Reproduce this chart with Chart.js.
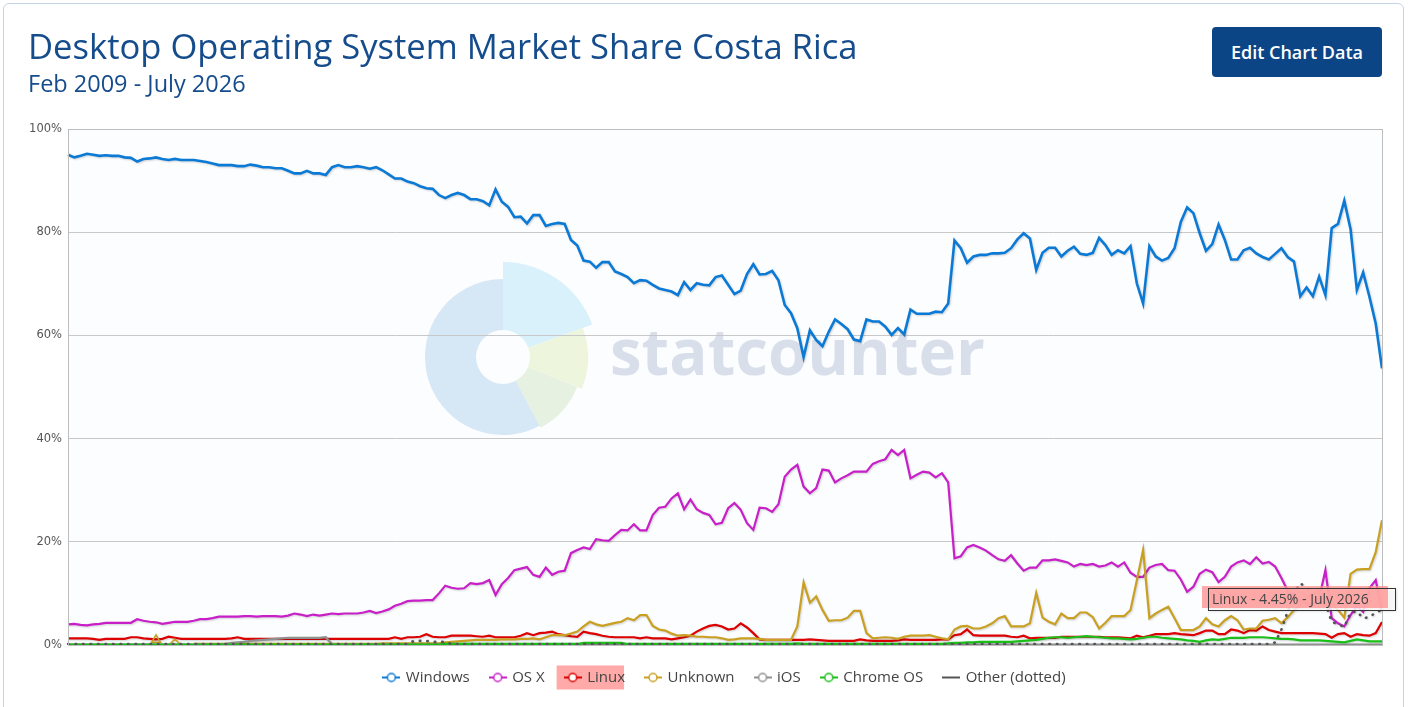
<!DOCTYPE html>
<html>
<head>
<meta charset="utf-8">
<title>Desktop Operating System Market Share Costa Rica</title>
<script src="https://cdn.jsdelivr.net/npm/chart.js@4.4.0/dist/chart.umd.min.js"></script>
<style>
  html, body { margin: 0; padding: 0; background: #fff; }
  body { width: 1408px; height: 707px; position: relative; overflow: hidden; font-family: "Open Sans", sans-serif; }
  .card { position: absolute; left: 3px; top: 3px; width: 1399px; height: 760px; border: 1px solid #c4d4e7; border-radius: 6px; }
  h1 { position: absolute; left: 28px; top: 29px; margin: 0; font-weight: 400; font-size: 34.6px; line-height: 34.6px; color: #154c8c; white-space: nowrap; }
  .sub { position: absolute; left: 28px; top: 72px; font-size: 23.5px; line-height: 23.5px; color: #154c8c; white-space: nowrap; }
  .btn { position: absolute; left: 1212px; top: 27px; width: 170px; height: 50px; background: #0b4586; color: #fff; border-radius: 4px;
         font-size: 18px; font-weight: 600; display: flex; align-items: center; justify-content: center; }
  #chart { position: absolute; left: 0; top: 0; }
</style>
</head>
<body>
<div class="card"></div>
<canvas id="chart" width="1408" height="707"></canvas>
<h1>Desktop Operating System Market Share Costa Rica</h1>
<div class="sub">Feb 2009 - July 2026</div>
<div class="btn">Edit Chart Data</div>

<script>
// monthly values, Feb 2009 .. July 2026 (210 months)
const monthNames = ['Jan', 'Feb', 'Mar', 'Apr', 'May', 'June', 'July', 'Aug', 'Sept', 'Oct', 'Nov', 'Dec'];
const months = [];
for (let y = 2009, m = 1; y < 2026 || (y === 2026 && m <= 6); m++) {
  if (m > 11) { m = 0; y++; }
  months.push(monthNames[m] + ' ' + y);
}

const windows = [
  95.0, 94.5, 94.8, 95.2, 95.0, 94.8, 94.9, 94.8, 94.8, 94.5,
  94.4, 93.7, 94.2, 94.3, 94.5, 94.2, 94.0, 94.2, 94.0, 94.0,
  94.0, 93.8, 93.6, 93.3, 93.0, 93.0, 93.0, 92.8, 92.8, 93.1,
  92.9, 92.6, 92.6, 92.4, 92.4, 91.9, 91.4, 91.4, 91.9, 91.4,
  91.4, 91.1, 92.6, 93.0, 92.6, 92.6, 92.8, 92.6, 92.3, 92.6,
  92.0, 91.2, 90.4, 90.4, 89.8, 89.5, 88.9, 88.5, 88.4, 87.2,
  86.6, 87.2, 87.6, 87.2, 86.4, 86.4, 86.0, 85.2, 88.3, 85.9,
  84.9, 82.9, 83.0, 81.7, 83.3, 83.3, 81.2, 81.6, 81.8, 81.6,
  78.5, 77.4, 74.5, 74.3, 73.1, 74.2, 74.2, 72.4, 71.9, 71.3,
  70.1, 70.7, 70.6, 69.8, 69.1, 68.8, 68.5, 67.8, 70.3, 68.8,
  70.1, 69.8, 69.7, 71.3, 71.6, 69.8, 68.0, 68.7, 71.9, 73.8,
  71.8, 71.9, 72.5, 70.7, 65.9, 64.3, 61.4, 55.8, 61.0, 59.1,
  57.9, 60.7, 63.1, 62.2, 61.2, 59.2, 58.9, 63.1, 62.7, 62.7,
  61.7, 60.1, 61.4, 60.2, 65.0, 64.2, 64.2, 64.2, 64.6, 64.5,
  66.2, 78.4, 76.9, 74.1, 75.3, 75.6, 75.6, 75.9, 75.9, 76.0,
  76.9, 78.6, 79.8, 78.8, 72.7, 76.0, 77.0, 77.0, 75.3, 76.4,
  77.2, 75.8, 75.6, 76.0, 78.9, 77.5, 75.6, 76.5, 75.9, 77.3,
  70.1, 66.2, 77.3, 75.3, 74.5, 75.0, 76.9, 82.0, 84.8, 83.7,
  79.8, 76.4, 77.7, 81.5, 78.5, 74.7, 74.7, 76.5, 77.0, 75.9,
  75.2, 74.7, 75.8, 76.9, 75.2, 74.3, 67.6, 69.3, 67.6, 71.4,
  67.8, 80.8, 81.6, 86.1, 80.6, 68.8, 72.2, 67.5, 62.3, 53.6
];

const osx = [
  4.0, 4.1, 3.9, 3.8, 4.0, 4.1, 4.3, 4.3, 4.3, 4.3,
  4.3, 5.0, 4.7, 4.5, 4.4, 4.1, 4.3, 4.5, 4.5, 4.5,
  4.7, 5.0, 5.0, 5.2, 5.5, 5.5, 5.5, 5.5, 5.6, 5.6,
  5.5, 5.6, 5.6, 5.6, 5.5, 5.7, 6.1, 5.9, 5.6, 5.9,
  5.7, 5.9, 6.1, 6.0, 6.1, 6.1, 6.1, 6.3, 6.6, 6.2,
  6.5, 6.9, 7.6, 8.0, 8.5, 8.6, 8.6, 8.7, 8.7, 10.0,
  11.5, 11.1, 10.9, 11.0, 12.0, 11.8, 12.0, 12.6, 9.7, 11.8,
  13.0, 14.5, 14.8, 15.1, 13.6, 13.2, 15.0, 13.6, 14.2, 14.4,
  17.8, 18.4, 18.9, 18.6, 20.5, 20.3, 20.2, 21.3, 22.3, 22.2,
  23.4, 22.2, 22.2, 25.2, 26.6, 26.8, 28.4, 29.4, 26.3, 28.2,
  26.3, 25.6, 25.2, 23.4, 23.7, 26.5, 27.5, 26.2, 23.6, 22.3,
  26.6, 26.5, 25.8, 27.3, 32.6, 34.0, 34.9, 30.7, 29.4, 30.4,
  34.0, 33.8, 31.5, 32.3, 32.9, 33.6, 33.6, 33.6, 35.1, 35.6,
  36.0, 37.8, 36.8, 37.8, 32.3, 33.0, 33.6, 33.4, 32.5, 33.3,
  31.5, 16.8, 17.2, 18.9, 19.4, 18.9, 18.3, 17.4, 16.6, 16.3,
  17.4, 15.8, 14.4, 15.0, 15.0, 16.4, 16.4, 16.6, 16.3, 16.0,
  15.2, 15.7, 15.5, 15.7, 15.2, 15.4, 16.0, 15.2, 16.0, 14.0,
  13.2, 13.2, 15.0, 15.5, 15.7, 14.5, 14.4, 12.7, 10.3, 11.3,
  13.8, 14.6, 14.1, 12.2, 13.2, 15.2, 16.0, 16.4, 15.7, 17.0,
  15.8, 16.1, 15.2, 13.0, 10.5, 9.5, 8.5, 8.0, 8.0, 9.0,
  14.5, 5.2, 4.2, 3.6, 5.8, 7.6, 6.4, 11.0, 12.6, 6.6
];

const linux = [
  1.3, 1.3, 1.3, 1.3, 1.2, 1.0, 1.2, 1.2, 1.2, 1.2,
  1.5, 1.5, 1.3, 1.2, 1.1, 1.2, 1.6, 1.4, 1.2, 1.2,
  1.2, 1.2, 1.2, 1.2, 1.2, 1.2, 1.3, 1.5, 1.2, 1.2,
  1.2, 1.2, 1.2, 1.2, 1.2, 1.2, 1.2, 1.2, 1.2, 1.2,
  1.2, 1.2, 1.2, 1.2, 1.2, 1.2, 1.2, 1.2, 1.2, 1.2,
  1.2, 1.2, 1.5, 1.2, 1.5, 1.5, 1.6, 2.1, 1.6, 1.5,
  1.5, 1.8, 1.8, 1.8, 1.8, 1.7, 1.6, 1.8, 1.5, 1.5,
  1.5, 1.5, 1.8, 2.3, 1.9, 2.3, 2.4, 2.6, 2.1, 1.9,
  1.7, 1.6, 2.6, 2.3, 2.1, 1.8, 1.6, 1.5, 1.5, 1.5,
  1.5, 1.3, 1.5, 1.3, 1.3, 1.3, 1.1, 1.3, 1.5, 1.8,
  2.6, 3.2, 3.7, 3.9, 3.6, 3.0, 3.2, 4.2, 3.4, 2.3,
  1.1, 1.0, 1.0, 1.0, 1.0, 1.0, 1.0, 1.0, 1.1, 1.0,
  0.9, 0.8, 0.8, 0.8, 0.8, 0.8, 1.1, 0.9, 0.8, 0.8,
  0.8, 0.8, 0.9, 1.1, 1.0, 1.0, 1.0, 1.0, 1.0, 1.1,
  1.1, 1.9, 2.1, 3.0, 1.9, 1.8, 1.8, 1.8, 1.8, 1.8,
  1.6, 1.5, 1.8, 1.3, 1.4, 1.4, 1.4, 1.4, 1.6, 1.6,
  1.6, 1.6, 1.6, 1.6, 1.6, 1.5, 1.5, 1.5, 1.4, 1.3,
  1.8, 1.5, 1.8, 2.1, 2.1, 2.1, 2.3, 2.1, 2.0, 1.9,
  2.3, 2.8, 2.8, 2.1, 2.1, 3.0, 2.8, 2.3, 2.9, 2.8,
  3.6, 2.9, 2.6, 2.3, 2.3, 2.3, 2.3, 2.3, 2.3, 2.2,
  2.1, 1.4, 2.1, 2.3, 1.6, 2.1, 1.9, 1.8, 2.3, 4.45
];

const unknown = [
  null, null, null, null, null, null, null, null, null, null,
  null, null, null, null, 1.0, null, null, 0.2, null, null,
  0.2, 0.2, 0.2, 0.2, 0.2, 0.2, 0.2, 0.2, 0.2, 0.2,
  0.2, 0.2, 0.2, 0.2, 0.2, 0.2, 0.2, 0.2, 0.2, 0.2,
  0.2, 0.2, 0.2, 0.2, 0.2, 0.2, 0.2, 0.2, 0.2, 0.2,
  0.3, 0.3, 0.3, 0.3, 0.3, 0.3, 0.3, 0.3, 0.3, 0.3,
  0.5, 0.6, 0.7, 0.8, 0.9, 1.0, 1.0, 1.0, 1.0, 1.1,
  1.1, 1.1, 1.2, 1.2, 1.3, 1.1, 1.5, 1.9, 1.9, 1.9,
  2.2, 2.6, 3.6, 4.5, 4.0, 3.7, 4.0, 4.3, 4.5, 5.2,
  4.8, 5.8, 5.8, 3.7, 3.0, 2.8, 2.2, 1.8, 1.9, 1.8,
  1.6, 1.6, 1.5, 1.5, 1.3, 1.0, 1.1, 1.3, 1.3, 1.3,
  1.2, 1.0, 1.0, 1.0, 1.0, 1.0, 3.6, 12.1, 8.2, 9.4,
  6.8, 4.7, 4.8, 4.8, 5.3, 6.6, 6.6, 2.3, 1.3, 1.4,
  1.5, 1.4, 1.2, 1.6, 1.8, 1.8, 1.8, 1.9, 1.6, 1.3,
  1.1, 3.0, 3.6, 3.7, 3.2, 3.2, 3.6, 4.2, 5.2, 5.6,
  3.6, 3.6, 3.6, 4.2, 10.1, 5.3, 4.5, 4.0, 6.1, 5.2,
  5.2, 6.3, 6.3, 5.4, 3.2, 4.3, 5.6, 5.6, 5.6, 6.8,
  12.5, 18.4, 5.2, 6.1, 6.8, 7.4, 5.2, 2.9, 2.9, 2.9,
  3.6, 5.2, 4.0, 3.6, 4.8, 5.6, 4.8, 3.0, 3.2, 3.2,
  4.7, 4.9, 5.2, 4.2, 5.4, 6.8, 8.0, 9.0, 10.0, 10.5,
  9.0, 8.0, 6.8, 5.3, 13.8, 14.6, 14.7, 14.7, 18.0, 24.2
];

const ios = [
  0.1, 0.1, 0.1, 0.1, 0.1, 0.1, 0.1, 0.1, 0.1, 0.1,
  0.1, 0.1, 0.1, 0.1, 0.1, 0.1, 0.1, 0.1, 0.1, 0.1,
  0.1, 0.1, 0.1, 0.1, 0.1, 0.2, 0.4, 0.5, 0.6, 0.8,
  0.9, 1.0, 1.1, 1.2, 1.3, 1.4, 1.4, 1.4, 1.4, 1.4,
  1.4, 1.5, 0.1, 0.1, 0.1, 0.1, 0.1, 0.1, 0.1, 0.1,
  0.1, 0.1, 0.1, 0.1, 0.1, 0.1, 0.1, 0.1, 0.1, 0.1,
  0.1, 0.1, 0.1, 0.1, 0.1, 0.1, 0.1, 0.1, 0.1, 0.1,
  0.1, 0.1, 0.1, 0.1, 0.1, 0.1, 0.1, 0.1, 0.1, 0.1,
  0.1, 0.1, 0.1, 0.1, 0.1, 0.1, 0.1, 0.1, 0.1, 0.1,
  0.1, 0.1, 0.1, 0.1, 0.1, 0.1, 0.1, 0.1, 0.1, 0.1,
  0.1, 0.1, 0.1, 0.1, 0.1, 0.1, 0.1, 0.1, 0.1, 0.1,
  0.1, 0.1, 0.1, 0.1, 0.1, 0.1, 0.1, 0.1, 0.1, 0.1,
  0.1, 0.1, 0.1, 0.1, 0.1, 0.1, 0.1, 0.1, 0.1, 0.1,
  0.1, 0.1, 0.1, 0.1, 0.1, 0.1, 0.1, 0.1, 0.1, 0.1,
  0.1, 0.1, 0.1, 0.1, 0.1, 0.1, 0.1, 0.1, 0.1, 0.1,
  0.1, 0.1, 0.1, 0.1, 0.1, 0.1, 0.1, 0.1, 0.1, 0.1,
  0.1, 0.1, 0.1, 0.1, 0.1, 0.1, 0.1, 0.1, 0.1, 0.1,
  0.1, 0.1, 0.1, 0.1, 0.1, 0.1, 0.1, 0.1, 0.1, 0.1,
  0.1, 0.1, 0.1, 0.1, 0.1, 0.1, 0.1, 0.1, 0.1, 0.1,
  0.1, 0.1, 0.1, 0.1, 0.1, 0.1, 0.1, 0.1, 0.1, 0.1,
  0.1, 0.1, 0.1, 0.1, 0.1, 0.1, 0.1, 0.1, 0.1, 0.1
];

const chromeOS = [
  0.1, 0.1, 0.1, 0.1, 0.1, 0.1, 0.1, 0.1, 0.1, 0.1,
  0.1, 0.1, 0.1, 0.1, 0.1, 0.1, 0.1, 0.1, 0.1, 0.1,
  0.1, 0.1, 0.1, 0.1, 0.1, 0.1, 0.1, 0.1, 0.1, 0.1,
  0.1, 0.1, 0.1, 0.1, 0.1, 0.1, 0.1, 0.1, 0.1, 0.1,
  0.1, 0.1, 0.1, 0.1, 0.1, 0.1, 0.1, 0.1, 0.1, 0.1,
  0.1, 0.1, 0.1, 0.1, 0.1, 0.1, 0.1, 0.1, 0.1, 0.1,
  0.2, 0.2, 0.2, 0.2, 0.2, 0.2, 0.2, 0.2, 0.2, 0.2,
  0.2, 0.2, 0.2, 0.2, 0.2, 0.2, 0.2, 0.2, 0.2, 0.2,
  0.2, 0.2, 0.4, 0.4, 0.4, 0.4, 0.4, 0.4, 0.4, 0.2,
  0.2, 0.2, 0.2, 0.2, 0.2, 0.2, 0.2, 0.2, 0.2, 0.2,
  0.2, 0.2, 0.2, 0.2, 0.2, 0.2, 0.2, 0.2, 0.2, 0.2,
  0.2, 0.2, 0.2, 0.2, 0.2, 0.2, 0.3, 0.2, 0.2, 0.2,
  0.2, 0.2, 0.2, 0.2, 0.2, 0.2, 0.2, 0.2, 0.2, 0.2,
  0.2, 0.2, 0.2, 0.2, 0.2, 0.2, 0.2, 0.2, 0.2, 0.2,
  0.3, 0.4, 0.4, 0.5, 0.5, 0.6, 0.6, 0.6, 0.6, 0.6,
  0.6, 0.7, 0.8, 0.9, 1.0, 1.2, 1.4, 1.5, 1.5, 1.4,
  1.5, 1.6, 1.7, 1.6, 1.5, 1.4, 1.3, 1.3, 1.2, 1.1,
  1.2, 1.4, 1.6, 1.6, 1.4, 1.3, 1.2, 1.1, 0.9, 0.8,
  0.6, 0.9, 1.1, 1.0, 1.2, 1.4, 1.4, 1.4, 1.5, 1.5,
  1.5, 1.4, 1.3, 1.2, 1.2, 1.1, 0.9, 0.9, 0.9, 0.9,
  0.8, 0.7, 0.6, 0.5, 0.8, 1.1, 0.9, 0.7, 0.7, 0.7
];

const other = [
  0.2, 0.2, 0.2, 0.2, 0.2, 0.2, 0.2, 0.2, 0.2, 0.2,
  0.2, 0.2, 0.2, 0.2, 0.2, 0.2, 0.2, 0.2, 0.2, 0.2,
  0.2, 0.2, 0.2, 0.2, 0.2, 0.2, 0.2, 0.2, 0.2, 0.2,
  0.2, 0.2, 0.2, 0.2, 0.2, 0.2, 0.2, 0.2, 0.2, 0.2,
  0.2, 0.2, 0.2, 0.2, 0.2, 0.2, 0.2, 0.2, 0.2, 0.2,
  0.2, 0.2, 0.2, 0.2, 0.2, 0.8, 0.8, 0.8, 0.6, 0.6,
  0.6, 0.2, 0.2, 0.2, 0.2, 0.2, 0.2, 0.2, 0.2, 0.2,
  0.2, 0.2, 0.2, 0.2, 0.2, 0.2, 0.2, 0.2, 0.2, 0.2,
  0.2, 0.2, 0.2, 0.2, 0.2, 0.2, 0.2, 0.2, 0.2, 0.2,
  0.2, 0.2, 0.2, 0.2, 0.2, 0.2, 0.2, 0.2, 0.2, 0.2,
  0.2, 0.2, 0.2, 0.2, 0.2, 0.2, 0.2, 0.2, 0.2, 0.2,
  0.2, 0.2, 0.2, 0.2, 0.2, 0.2, 0.2, 0.2, 0.2, 0.2,
  0.2, 0.2, 0.2, 0.2, 0.2, 0.2, 0.2, 0.2, 0.2, 0.2,
  0.2, 0.2, 0.2, 0.2, 0.2, 0.2, 0.2, 0.2, 0.2, 0.2,
  0.2, 0.2, 0.2, 0.2, 0.2, 0.2, 0.2, 0.2, 0.2, 0.2,
  0.2, 0.2, 0.2, 0.2, 0.2, 0.2, 0.2, 0.2, 0.2, 0.2,
  0.2, 0.2, 0.2, 0.2, 0.2, 0.2, 0.2, 0.2, 0.2, 0.2,
  0.2, 0.2, 0.2, 0.2, 0.2, 0.2, 0.2, 0.2, 0.2, 0.2,
  0.2, 0.2, 0.2, 0.2, 0.2, 0.2, 0.2, 0.2, 0.2, 0.2,
  0.2, 0.2, 0.5, 3.0, 6.5, 10.0, 12.0, 11.0, 10.0, 9.0,
  8.0, 4.5, 4.0, 3.5, 6.3, 6.5, 5.2, 5.4, 6.3, 6.8
];

const seriesNames = ['Windows', 'OS X', 'Linux', 'Unknown', 'iOS', 'Chrome OS', 'Other (dotted)'];
const seriesData = [windows, osx, linux, unknown, ios, chromeOS, other];
const seriesColors = ['#0a7ad6', '#c81fc8', '#dd0000', '#c9a022', '#909090', '#18c018', '#555555'];
const highlighted = 2; // Linux, hovered in the reference

// legend markers: small line through a hollow circle, plain dash for "Other"
function makeMarker(color, dash) {
  const c = document.createElement('canvas');
  c.width = 18; c.height = 12;
  const g = c.getContext('2d');
  g.strokeStyle = color;
  g.lineWidth = 2;
  g.beginPath(); g.moveTo(0, 6); g.lineTo(18, 6); g.stroke();
  if (!dash) {
    g.beginPath(); g.arc(9, 6, 4, 0, Math.PI * 2);
    g.fillStyle = '#fff'; g.fill();
    g.lineWidth = 1.5; g.stroke();
  }
  return c;
}

function isolated(ctx) {
  const d = ctx.dataset.data, i = ctx.dataIndex;
  return d[i] != null && d[i - 1] == null && d[i + 1] == null;
}

const datasets = seriesNames.map((name, k) => {
  const ds = {
    label: name,
    data: seriesData[k],
    borderColor: seriesColors[k],
    backgroundColor: seriesColors[k],
    borderWidth: k === 0 ? 2.6 : 2.2,
    pointRadius: 0,
    tension: 0,
    spanGaps: false,
    order: seriesNames.length - k
  };
  if (name === 'Unknown') {
    ds.pointRadius = (ctx) => isolated(ctx) ? 5 : 0;
    ds.pointStyle = (ctx) => {
      let n = 0;
      for (let i = 0; i < ctx.dataIndex; i++) {
        const d = ctx.dataset.data;
        if (d[i] != null && d[i - 1] == null && d[i + 1] == null) n++;
      }
      return n === 0 ? 'triangle' : 'rectRot';
    };
    ds.pointBackgroundColor = 'rgba(255,255,255,0)';
    ds.pointBorderWidth = 1.5;
  }
  if (name === 'Other (dotted)') {
    ds.borderDash = [0.5, 7];
    ds.borderCapStyle = 'round';
    ds.borderWidth = 2.6;
  }
  return ds;
});

const decor = {
  id: 'decor',
  afterLayout(chart) {
    // centre the legend row under the plot area rather than the whole canvas
    const lg = chart.legend, a = chart.chartArea;
    if (!lg) return;
    const d = (a.left + a.right) / 2 - (lg.left + lg.right) / 2;
    lg.left += d;
    lg.right += d;
  },
  beforeDraw(chart) {
    const {ctx, chartArea: a} = chart;
    ctx.save();
    ctx.fillStyle = '#fcfdfe';
    ctx.fillRect(a.left, a.top, a.right - a.left, a.bottom - a.top);

    // statcounter watermark
    const cx = a.left + 435, cy = a.top + 228;
    const wedges = [[-90, -20, 95, '#d9f1fb'], [-20, 22, 85, '#eef5dd'], [22, 62, 80, '#e6f1e2'], [62, 270, 78, '#d6e7f6']];
    wedges.forEach(([s, e, r, c]) => {
      ctx.beginPath();
      ctx.moveTo(cx, cy);
      ctx.arc(cx, cy, r, s * Math.PI / 180, e * Math.PI / 180);
      ctx.closePath();
      ctx.fillStyle = c;
      ctx.fill();
    });
    ctx.beginPath();
    ctx.arc(cx, cy, 27, 0, Math.PI * 2);
    ctx.fillStyle = '#fcfdfe';
    ctx.fill();
    let size = 64;
    ctx.font = 'bold ' + size + 'px "Open Sans"';
    size = size * 375 / ctx.measureText('statcounter').width;
    ctx.font = 'bold ' + size + 'px "Open Sans"';
    ctx.fillStyle = '#d9dfea';
    ctx.textBaseline = 'alphabetic';
    ctx.fillText('statcounter', a.left + 542, a.top + 246);

    // hover highlight behind the Linux legend entry
    const hb = chart.legend && chart.legend.legendHitBoxes && chart.legend.legendHitBoxes[highlighted];
    if (hb) {
      ctx.fillStyle = 'rgba(255,140,140,0.75)';
      ctx.fillRect(hb.left - 9, hb.top + hb.height / 2 - 12, hb.width + 8, 24);
    }
    ctx.restore();
  },
  beforeDatasetsDraw(chart) {
    const ctx = chart.ctx;
    ctx.save();
    ctx.shadowColor = 'rgba(0,0,0,0.18)';
    ctx.shadowOffsetX = 1;
    ctx.shadowOffsetY = 1;
    ctx.shadowBlur = 2;
  },
  afterDatasetsDraw(chart) {
    const {ctx, chartArea: a} = chart;
    ctx.restore();
    ctx.save();
    ctx.strokeStyle = '#bdbdbd';
    ctx.lineWidth = 1;
    ctx.strokeRect(Math.round(a.left) + 0.5, Math.round(a.top) + 0.5, Math.round(a.right - a.left), Math.round(a.bottom - a.top));
    ctx.restore();
  },
  afterDraw(chart) {
    // static tooltip on the last Linux point
    const {ctx} = chart;
    const meta = chart.getDatasetMeta(highlighted);
    const last = linux.length - 1;
    const pt = meta.data[last];
    const text = seriesNames[highlighted] + ' - ' + linux[last] + '% - ' + months[last];
    const px = pt.x, py = pt.y;
    ctx.save();
    ctx.shadowColor = 'rgba(0,0,0,0.3)';
    ctx.shadowOffsetX = 1; ctx.shadowOffsetY = 1; ctx.shadowBlur = 3;
    ctx.fillStyle = 'rgba(255,255,255,0.85)';
    ctx.fillRect(px - 174, py - 34, 187, 22);
    ctx.shadowColor = 'transparent';
    ctx.fillStyle = 'rgba(255,140,140,0.75)';
    ctx.fillRect(px - 180, py - 36, 186, 22);
    ctx.strokeStyle = '#333';
    ctx.lineWidth = 1;
    ctx.strokeRect(Math.round(px - 174) + 0.5, Math.round(py - 34) + 0.5, 187, 22);
    ctx.fillStyle = '#444';
    ctx.font = '14px "Open Sans"';
    ctx.textBaseline = 'alphabetic';
    ctx.fillText(text, px - 170, py - 18);
    ctx.restore();
  }
};

const markers = seriesColors.map((c, k) => makeMarker(c, k === seriesColors.length - 1));

new Chart(document.getElementById('chart').getContext('2d'), {
  type: 'line',
  data: { labels: months, datasets: datasets },
  options: {
    responsive: false,
    animation: false,
    events: [],
    layout: { padding: { top: 129, right: 26, bottom: 12, left: 0 } },
    scales: {
      x: {
        grid: { display: false, drawTicks: false },
        border: { display: false },
        ticks: { display: false },
        afterFit(scale) { scale.height = 4; }
      },
      y: {
        min: 0,
        max: 100,
        ticks: {
          stepSize: 20,
          callback: (v) => v + '%',
          color: '#555',
          font: { family: 'DejaVu Sans', size: 11.5 },
          padding: 6
        },
        grid: { color: '#c8c8c8', drawTicks: false },
        border: { display: false },
        afterFit(scale) { scale.width = 68; }
      }
    },
    plugins: {
      tooltip: { enabled: false },
      legend: {
        position: 'bottom',
        labels: {
          usePointStyle: true,
          pointStyleWidth: 14,
          padding: 21,
          color: '#444',
          font: { family: 'Open Sans', size: 15 },
          sort: (a, b) => a.datasetIndex - b.datasetIndex,
          generateLabels(chart) {
            const items = Chart.defaults.plugins.legend.labels.generateLabels(chart);
            items.forEach((it) => { it.pointStyle = markers[it.datasetIndex]; });
            return items;
          }
        }
      }
    }
  },
  plugins: [decor]
});
</script>
</body>
</html>
